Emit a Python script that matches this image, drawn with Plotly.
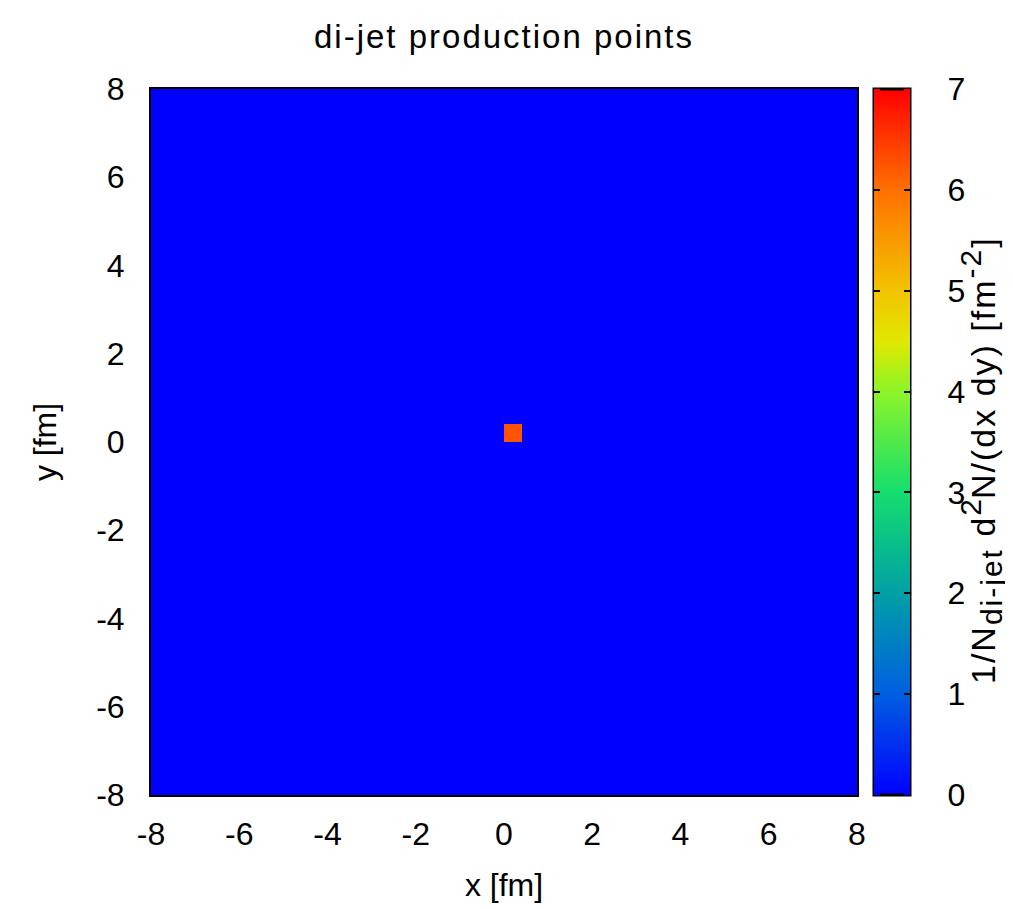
import plotly.graph_objects as go

# ---- data ----
x_bin_centers = [-7.8, -7.4, -7.0, -6.6, -6.2, -5.8, -5.4, -5.0, -4.6, -4.2,
                 -3.8, -3.4, -3.0, -2.6, -2.2, -1.8, -1.4, -1.0, -0.6, -0.2,
                 0.2, 0.6, 1.0, 1.4, 1.8, 2.2, 2.6, 3.0, 3.4, 3.8,
                 4.2, 4.6, 5.0, 5.4, 5.8, 6.2, 6.6, 7.0, 7.4, 7.8]
y_bin_centers = list(x_bin_centers)
# non-empty bins: (x centre, y centre, density)
hot_x = [0.2]
hot_y = [0.2]
hot_val = [6.25]

tick_vals = [-8, -6, -4, -2, 0, 2, 4, 6, 8]
tick_text = ["-8", "-6", "-4", "-2", "0", "2", "4", "6", "8"]
cb_ticks = [0, 1, 2, 3, 4, 5, 6, 7]

z = [[0.0 for _ in x_bin_centers] for _ in y_bin_centers]
for hx, hy, hv in zip(hot_x, hot_y, hot_val):
    z[y_bin_centers.index(hy)][x_bin_centers.index(hx)] = hv

colorscale = [
    [0.0, "rgb(0,0,255)"],
    [1 / 7, "rgb(0,95,225)"],
    [2 / 7, "rgb(0,160,165)"],
    [3 / 7, "rgb(20,222,110)"],
    [4 / 7, "rgb(140,245,40)"],
    [4.5 / 7, "rgb(225,232,0)"],
    [5 / 7, "rgb(242,195,0)"],
    [6 / 7, "rgb(255,112,0)"],
    [1.0, "rgb(255,0,0)"],
]

FONT = "Liberation Sans, Arial, Helvetica, sans-serif"
FS = 32
LS = "letter-spacing:2px"

cb_title = (f'<span style="{LS}">1/N</span>'
            f'<sub><span style="font-size:30px;{LS}">di-jet</span></sub>'
            f'<span style="{LS}"> d</span>'
            f'<sup><span style="font-size:30px">2</span></sup>'
            f'<span style="{LS}">N/(dx dy) [fm</span>'
            f'<sup><span style="font-size:30px;{LS}">-2</span></sup>]')

PLOT_W = 706
CB_X = (874 - 151) / PLOT_W
CB_T = 36
TL = 6

common_cb = dict(
    xref="paper", xanchor="left", y=0.5, yanchor="middle",
    len=1.0, lenmode="fraction", thicknessmode="pixels",
    xpad=0, ypad=0, tickmode="array", tickvals=cb_ticks,
)

fig = go.Figure()

# main heatmap + colour bar with labels (invisible spacer ticks)
fig.add_trace(go.Heatmap(
    x=x_bin_centers, y=y_bin_centers, z=z,
    zmin=0, zmax=7, colorscale=colorscale,
    colorbar=dict(
        **common_cb, x=CB_X, thickness=CB_T,
        outlinecolor="black", outlinewidth=3,
        ticks="outside", ticklen=30, tickwidth=1, tickcolor="rgba(0,0,0,0)",
        tickfont=dict(family=FONT, size=FS, color="black"),
    ),
    hoverinfo="skip",
))

# thin overlay bars that only carry the inside tick marks (left and right edge)
for xpos in (CB_X, CB_X + (CB_T - TL) / PLOT_W):
    fig.add_trace(go.Scatter(
        x=[None], y=[None], mode="markers", hoverinfo="skip", showlegend=False,
        marker=dict(color=[0], cmin=0, cmax=7, colorscale=colorscale,
                    showscale=True,
                    colorbar=dict(**common_cb, x=xpos, thickness=TL,
                                  outlinewidth=0, ticks="inside", ticklen=TL,
                                  tickwidth=1.5, tickcolor="black",
                                  showticklabels=False)),
    ))

# colorbar title
fig.add_annotation(text=cb_title, textangle=-90, showarrow=False,
                   xref="paper", yref="paper",
                   x=(981 - 151) / PLOT_W, y=(795 - 461) / PLOT_W,
                   xanchor="center", yanchor="middle",
                   font=dict(family=FONT, size=34, color="black"))

axis_common = dict(
    range=[-8, 8], tickmode="array", tickvals=tick_vals, ticktext=tick_text,
    showgrid=False, zeroline=False,
    showline=True, linecolor="black", linewidth=2, mirror=True,
    ticks="", tickfont=dict(family=FONT, size=FS, color="black"),
)

fig.update_layout(
    width=1005, height=901,
    margin=dict(l=143, r=156, t=81, b=114),
    paper_bgcolor="white", plot_bgcolor="white",
    showlegend=False,
    title=dict(text='<span style="letter-spacing:2px">di-jet production points</span>',
               x=0.5, xanchor="center",
               xref="paper", y=1 - 28 / 901, yanchor="middle",
               font=dict(family=FONT, size=33, color="black")),
    xaxis=dict(**axis_common, ticklabelstandoff=10,
               title=dict(text="x [fm]", standoff=22,
                          font=dict(family=FONT, size=FS, color="black"))),
    yaxis=dict(**axis_common, ticklabelstandoff=18,
               title=dict(text="y [fm]", standoff=30,
                          font=dict(family=FONT, size=FS, color="black"))),
)

fig.write_html("out.html")
